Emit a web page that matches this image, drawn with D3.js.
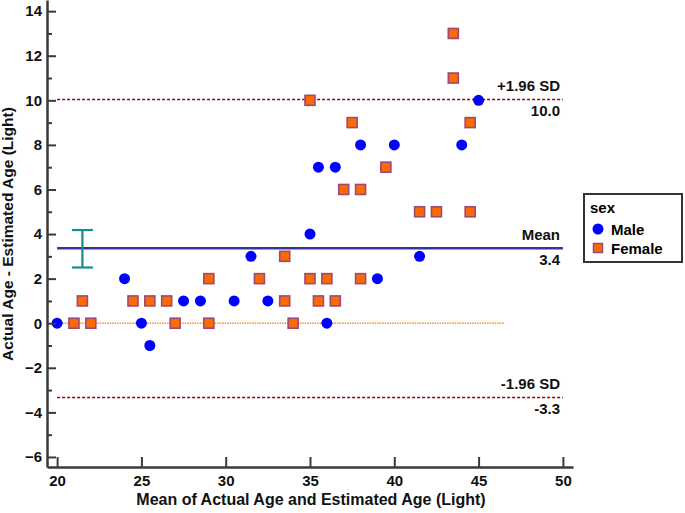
<!DOCTYPE html>
<html><head><meta charset="utf-8">
<script src="https://cdn.jsdelivr.net/npm/d3@7"></script>
<style>body{margin:0;background:#fff}svg{display:block;font-family:"Liberation Sans",Arial,sans-serif}</style>
</head><body>
<svg id="c" width="685" height="513"></svg>
<script>
// Data (Bland-Altman)
const maleX = [20, 24, 25, 25.5, 27.5, 28.5, 30.5, 31.5, 32.5, 35, 35.5, 36, 36.5, 38, 39, 40, 41.5, 44, 45];
const maleY = [0, 2, 0, -1, 1, 1, 1, 3, 1, 4, 7, 0, 7, 8, 2, 8, 3, 8, 10];
const femaleX = [21, 21.5, 22, 24.5, 25.5, 26.5, 27, 29, 29, 32, 33.5, 33.5, 34, 35, 35, 35.5, 36, 36.5, 37, 37.5, 38, 38, 39.5, 41.5, 42.5, 43.5, 43.5, 44.5, 44.5];
const femaleY = [0, 1, 0, 1, 1, 1, 0, 2, 0, 2, 3, 1, 0, 10, 2, 1, 2, 1, 6, 9, 6, 2, 7, 5, 5, 13, 11, 9, 5];
const meanDiff = 3.36, upperLoA = 10.04, lowerLoA = -3.33;
const meanLabel = "3.4", upperLabel = "10.0", lowerLabel = "-3.3";
const ciMean = [2.5, 4.18], ciX = 21.5;
const xTicks = [20, 25, 30, 35, 40, 45, 50];
const yTicks = [-6, -4, -2, 0, 2, 4, 6, 8, 10, 12, 14];
const yMinor = [-5, -3, -1, 1, 3, 5, 7, 9, 11, 13];
const lineRange = [20, 50];
const zeroRange = [20, 46.5];

const svg = d3.select("#c");
const x = d3.scaleLinear().domain([19.4, 50.6]).range([47, 573]);
const y = d3.scaleLinear().domain([-6.45, 14.5]).range([467, 0]);
const axisCol = "#3a3a3a";

// reference lines
svg.append("line").attr("x1", x(zeroRange[0])).attr("x2", x(zeroRange[1])).attr("y1", y(0)).attr("y2", y(0))
  .attr("stroke", "#f07800").attr("stroke-width", 1.2).attr("stroke-dasharray", "1.5,1");
[upperLoA, lowerLoA].forEach(v => {
  svg.append("line").attr("x1", x(lineRange[0])).attr("x2", x(lineRange[1]))
    .attr("y1", Math.round(y(v)) + 0.5).attr("y2", Math.round(y(v)) + 0.5)
    .attr("stroke", "#990000").attr("stroke-width", 1.5).attr("stroke-dasharray", "3,2");
});
svg.append("line").attr("x1", x(lineRange[0])).attr("x2", x(lineRange[1])).attr("y1", y(meanDiff)).attr("y2", y(meanDiff))
  .attr("stroke", "#363699").attr("stroke-width", 2.6);

// CI error bar
const eb = svg.append("g").attr("stroke", "#1a8a8a").attr("stroke-width", 2.2);
eb.append("line").attr("x1", x(ciX)).attr("x2", x(ciX)).attr("y1", y(ciMean[0])).attr("y2", y(ciMean[1]));
ciMean.forEach(v => eb.append("line").attr("x1", x(ciX) - 10.5).attr("x2", x(ciX) + 10.5).attr("y1", y(v)).attr("y2", y(v)));

// line labels
const lab = (txt, v, above) => svg.append("text").attr("x", 560).attr("y", y(v) + (above ? -8 : 17))
  .attr("text-anchor", "end").attr("font-size", 15).attr("font-weight", "bold").attr("fill", "#111").text(txt);
lab("+1.96 SD", upperLoA, true); lab(upperLabel, upperLoA, false);
lab("Mean", meanDiff, true); lab(meanLabel, meanDiff, false);
lab("-1.96 SD", lowerLoA, true); lab(lowerLabel, lowerLoA, false);

// points
svg.append("g").selectAll("circle").data(maleX.map((d, i) => [d, maleY[i]])).join("circle")
  .attr("cx", d => x(d[0])).attr("cy", d => y(d[1])).attr("r", 5.5).attr("fill", "#0000ff");
svg.append("g").selectAll("rect").data(femaleX.map((d, i) => [d, femaleY[i]])).join("rect")
  .attr("x", d => x(d[0]) - 5).attr("y", d => y(d[1]) - 5).attr("width", 10).attr("height", 10)
  .attr("fill", "#ff6a00").attr("stroke", "#9a4a78").attr("stroke-width", 1.6);

// axes
const gy = svg.append("g").attr("transform", "translate(47,0)")
  .call(d3.axisLeft(y).tickValues(yTicks).tickSizeInner(-9).tickSizeOuter(0).tickPadding(5));
const gyMinor = svg.append("g").attr("transform", "translate(47,0)")
  .call(d3.axisLeft(y).tickValues(yMinor).tickSizeInner(-5).tickSizeOuter(0).tickFormat(""));
gyMinor.select(".domain").remove();
const gx = svg.append("g").attr("transform", "translate(0,467)")
  .call(d3.axisBottom(x).tickValues(xTicks).tickSizeInner(-10).tickSizeOuter(0).tickPadding(8));
[gy, gyMinor, gx].forEach(g => {
  g.selectAll("line").attr("stroke", axisCol).attr("stroke-width", 2);
  g.select(".domain").attr("stroke", axisCol).attr("stroke-width", 2.5);
  g.selectAll("text").attr("font-size", 15).attr("font-weight", "bold").attr("fill", "#111")
    .attr("font-family", "Liberation Sans, Arial, sans-serif");
});

// axis titles
svg.append("text").attr("x", 311).attr("y", 505).attr("text-anchor", "middle")
  .attr("font-size", 16).attr("font-weight", "bold").attr("fill", "#111")
  .text("Mean of Actual Age and Estimated Age (Light)");
svg.append("text").attr("transform", "translate(13,234) rotate(-90)").attr("text-anchor", "middle")
  .attr("font-size", 15.5).attr("font-weight", "bold").attr("fill", "#111")
  .text("Actual Age - Estimated Age (Light)");

// legend
const lg = svg.append("g");
lg.append("rect").attr("x", 584).attr("y", 194).attr("width", 98).attr("height", 68)
  .attr("fill", "#fff").attr("stroke", "#333").attr("stroke-width", 2);
lg.append("text").attr("x", 590).attr("y", 213).attr("font-size", 15).attr("font-weight", "bold").text("sex");
lg.append("circle").attr("cx", 598).attr("cy", 229).attr("r", 5.5).attr("fill", "#0000ff");
lg.append("text").attr("x", 611).attr("y", 235).attr("font-size", 15).attr("font-weight", "bold").text("Male");
lg.append("rect").attr("x", 593.5).attr("y", 243.5).attr("width", 9).attr("height", 9)
  .attr("fill", "#ff6a00").attr("stroke", "#9a4a78").attr("stroke-width", 1.5);
lg.append("text").attr("x", 611).attr("y", 254).attr("font-size", 15).attr("font-weight", "bold").text("Female");
</script>
</body></html>
